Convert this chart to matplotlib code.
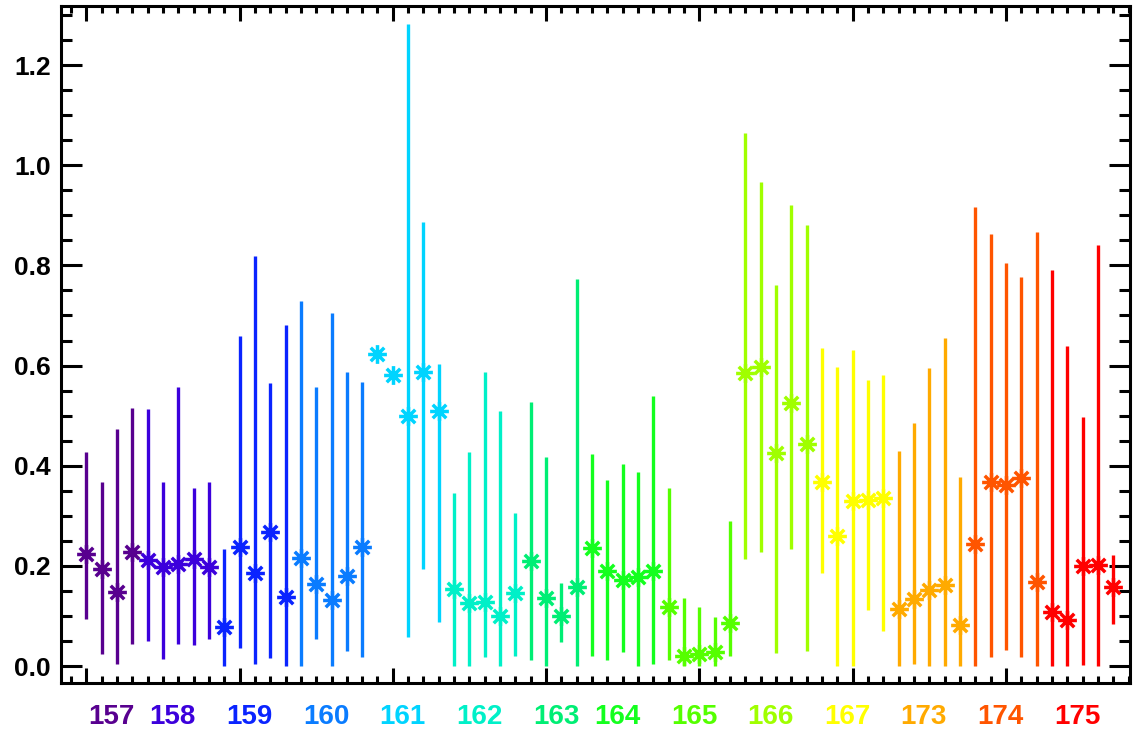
import numpy as np
import matplotlib
matplotlib.use("Agg")
import matplotlib.pyplot as plt
from matplotlib.path import Path
from matplotlib.ticker import MultipleLocator, NullFormatter
from matplotlib.transforms import blended_transform_factory

nan = np.nan

# group labels, their colours and how many points each group has
groups = ["157", "158", "159", "160", "161", "162", "163",
          "164", "165", "166", "167", "173", "174", "175"]
group_colors = ["#58008f", "#3c00dc", "#0a24ff", "#0a7cff", "#00d4ff",
                "#00f0c8", "#00ee74", "#14ff1e", "#55ff00", "#a0ff00",
                "#ffff00", "#ffaa00", "#ff5500", "#ff0000"]
group_sizes = [4, 5, 5, 5, 5, 5, 4, 5, 5, 5, 5, 5, 5, 5]

values = [0.224, 0.193, 0.147, 0.228,
          0.212, 0.198, 0.204, 0.214, 0.198,
          0.078, 0.238, 0.185, 0.267, 0.138,
          0.216, 0.163, 0.132, 0.180, 0.237,
          0.624, 0.581, 0.500, 0.588, 0.509,
          0.153, 0.126, 0.127, 0.100, 0.145,
          0.210, 0.136, 0.099, 0.158,
          0.235, 0.190, 0.172, 0.177, 0.190,
          0.118, 0.020, 0.024, 0.027, 0.085,
          0.585, 0.597, 0.425, 0.525, 0.443,
          0.368, 0.259, 0.329, 0.331, 0.336,
          0.114, 0.134, 0.152, 0.162, 0.082,
          0.243, 0.368, 0.362, 0.376, 0.167,
          0.107, 0.092, 0.200, 0.202, 0.158]

upper = [0.428, 0.368, 0.473, 0.516,
         0.514, 0.368, 0.558, 0.356, 0.368,
         0.234, 0.659, 0.819, 0.566, 0.681,
         0.728, 0.558, 0.704, 0.587, 0.568,
         nan, nan, 1.283, 0.886, 0.604,
         0.345, 0.428, 0.587, 0.509, 0.305,
         0.528, 0.418, 0.166, 0.772,
         0.423, 0.372, 0.404, 0.388, 0.540,
         0.356, 0.136, 0.118, 0.098, 0.290,
         1.064, 0.967, 0.760, 0.921, 0.881,
         0.635, 0.597, 0.631, 0.571, 0.582,
         0.430, 0.485, 0.595, 0.656, 0.377,
         0.916, 0.862, 0.804, 0.776, 0.866,
         0.791, 0.640, 0.497, 0.841, 0.222]

lower = [0.093, 0.024, 0.005, 0.043,
         0.050, 0.014, 0.043, 0.042, 0.053,
         0.000, 0.035, 0.005, 0.015, 0.000,
         0.000, 0.053, 0.000, 0.029, 0.017,
         nan, nan, 0.057, 0.193, 0.087,
         0.000, 0.000, 0.018, 0.000, 0.020,
         0.013, 0.000, 0.048, 0.000,
         0.020, 0.012, 0.027, 0.000, 0.004,
         0.013, 0.000, 0.000, 0.000, 0.020,
         0.213, 0.228, 0.026, 0.234, 0.030,
         0.185, 0.000, 0.000, 0.112, 0.070,
         0.000, 0.005, 0.000, 0.000, 0.000,
         0.000, 0.017, 0.032, 0.017, 0.000,
         0.000, 0.000, 0.003, 0.000, 0.084]

# IDL style asterisk: plus and cross together
r = 0.72
asterisk = Path(
    [(0, -1), (0, 1), (-1, 0), (1, 0), (-r, -r), (r, r), (-r, r), (r, -r)],
    [Path.MOVETO, Path.LINETO] * 4,
)

plt.rcParams["font.family"] = ["Liberation Sans", "DejaVu Sans"]
plt.rcParams["font.weight"] = "bold"

fig = plt.figure(figsize=(11.38, 7.35), dpi=100)
ax = fig.add_axes([0.0532, 0.0707, 0.9398, 0.9211])

start = 0
for name, color, n in zip(groups, group_colors, group_sizes):
    idx = np.arange(start, start + n)
    ax.vlines(idx, [lower[i] for i in idx], [upper[i] for i in idx],
              colors=color, linewidth=2.4, zorder=2)
    ax.plot(idx, [values[i] for i in idx], linestyle="none", marker=asterisk,
            markersize=13.5, markeredgewidth=2.5, color=color, zorder=3)
    start += n

ax.set_xlim(-1.68, 68.1)
ax.set_ylim(-0.034, 1.318)

ax.xaxis.set_major_locator(MultipleLocator(10))
ax.xaxis.set_minor_locator(MultipleLocator(1))
ax.xaxis.set_major_formatter(NullFormatter())
ax.yaxis.set_major_locator(MultipleLocator(0.2))
ax.yaxis.set_minor_locator(MultipleLocator(0.05))
ax.yaxis.set_major_formatter(lambda v, p: f"{v:.1f}")

ax.tick_params(which="both", direction="in", top=True, right=True,
               width=2.2, colors="black")
ax.tick_params(axis="x", which="major", length=11)
ax.tick_params(axis="x", which="minor", length=5)
ax.tick_params(axis="y", which="major", length=15, pad=7, labelsize=19)
ax.tick_params(axis="y", which="minor", length=8)
for s in ax.spines.values():
    s.set_linewidth(2.2)

# coloured group names under the axis
trans = blended_transform_factory(ax.transData, ax.transAxes)
start = 0
for name, color, n in zip(groups, group_colors, group_sizes):
    ax.text(start + 1.65, -0.05, name, color=color, fontsize=20,
            fontweight="bold", ha="center", va="center", transform=trans)
    start += n

fig.savefig("out.png", dpi=100)
